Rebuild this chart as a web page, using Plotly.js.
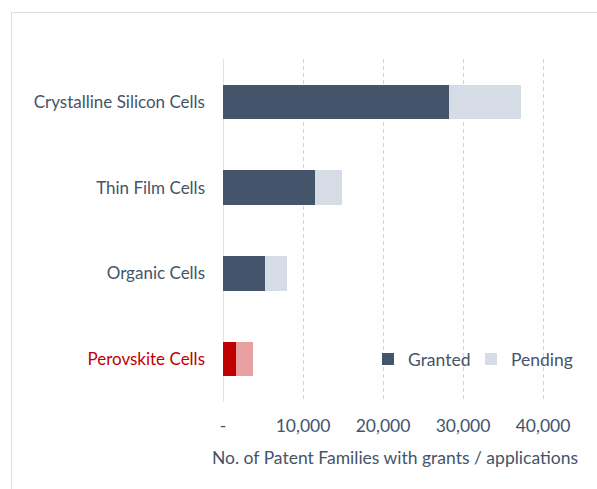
<!DOCTYPE html>
<html>
<head>
<meta charset="utf-8">
<script src="https://cdn.plot.ly/plotly-3.0.1.min.js"></script>
<style>
  html, body { margin: 0; padding: 0; background: #ffffff; }
  #chart { width: 597px; height: 489px; }
  #frame { position: absolute; left: 11px; top: 12px; width: 600px; height: 500px;
           border-left: 1.5px solid #DCDCDC; border-top: 1.5px solid #DCDCDC; pointer-events: none; }
</style>
</head>
<body>
<div id="chart"></div>
<div id="frame"></div>
<script>
const categories = ["Crystalline Silicon Cells", "Thin Film Cells", "Organic Cells", "Perovskite Cells"];
const granted = [28300, 11450, 5300, 1650];
const pending = [9000, 3400, 2750, 2100];
const tickValues = [0, 10000, 20000, 30000, 40000];
const tickLabels = ["-", "10,000", "20,000", "30,000", "40,000"];

const textColor = "#44546A";
const highlight = "#C00000";
const grantedColors = categories.map(c => c === "Perovskite Cells" ? "#C00000" : "#44546A");
const pendingColors = categories.map(c => c === "Perovskite Cells" ? "#E8A0A0" : "#D6DCE5");
const catLabels = categories.map(c => c === "Perovskite Cells"
  ? '<span style="color:' + highlight + '">' + c + '</span>' : c);

const font = "Lato, 'Open Sans', sans-serif";

const data = [
  { type: "bar", orientation: "h", name: "Granted", y: catLabels, x: granted,
    marker: { color: grantedColors, line: { width: 0 } }, hoverinfo: "x+name" },
  { type: "bar", orientation: "h", name: "Pending", y: catLabels, x: pending,
    marker: { color: pendingColors, line: { width: 0 } }, hoverinfo: "x+name" }
];

const layout = {
  width: 597, height: 489,
  margin: { l: 223, r: 30, t: 59, b: 87, autoexpand: false },
  paper_bgcolor: "#ffffff", plot_bgcolor: "#ffffff",
  barmode: "stack", bargap: 0.6,
  font: { family: font, color: textColor, size: 17 },
  showlegend: true,
  legend: { orientation: "h", traceorder: "normal", x: 0.4215, y: 0.125, xanchor: "left", yanchor: "middle",
            font: { size: 17.5, color: textColor }, bgcolor: "rgba(0,0,0,0)", itemwidth: 30,
            entrywidth: 58 },
  xaxis: {
    range: [0, 43000], tickvals: tickValues, ticktext: tickLabels,
    showgrid: true, gridcolor: "#D4D4D4", griddash: "4px,3px", gridwidth: 1,
    zeroline: false, showline: false, ticks: "",
    tickfont: { size: 17.5, color: textColor }, ticklabelstandoff: 11,
    title: { text: "No. of Patent Families with grants / applications", font: { size: 17.5, color: textColor }, standoff: 17 }
  },
  yaxis: {
    autorange: "reversed", type: "category",
    showgrid: false, zeroline: false, showline: false, ticks: "",
    tickfont: { size: 17, color: textColor }, ticklabelstandoff: 17
  },
  shapes: [
    { type: "line", xref: "x", yref: "paper", x0: 0, x1: 0, y0: 0, y1: 1,
      line: { color: "#D9D9D9", width: 1.5 }, layer: "below" }
  ]
};

Plotly.newPlot("chart", data, layout, { displayModeBar: false, staticPlot: true });
</script>
</body>
</html>
